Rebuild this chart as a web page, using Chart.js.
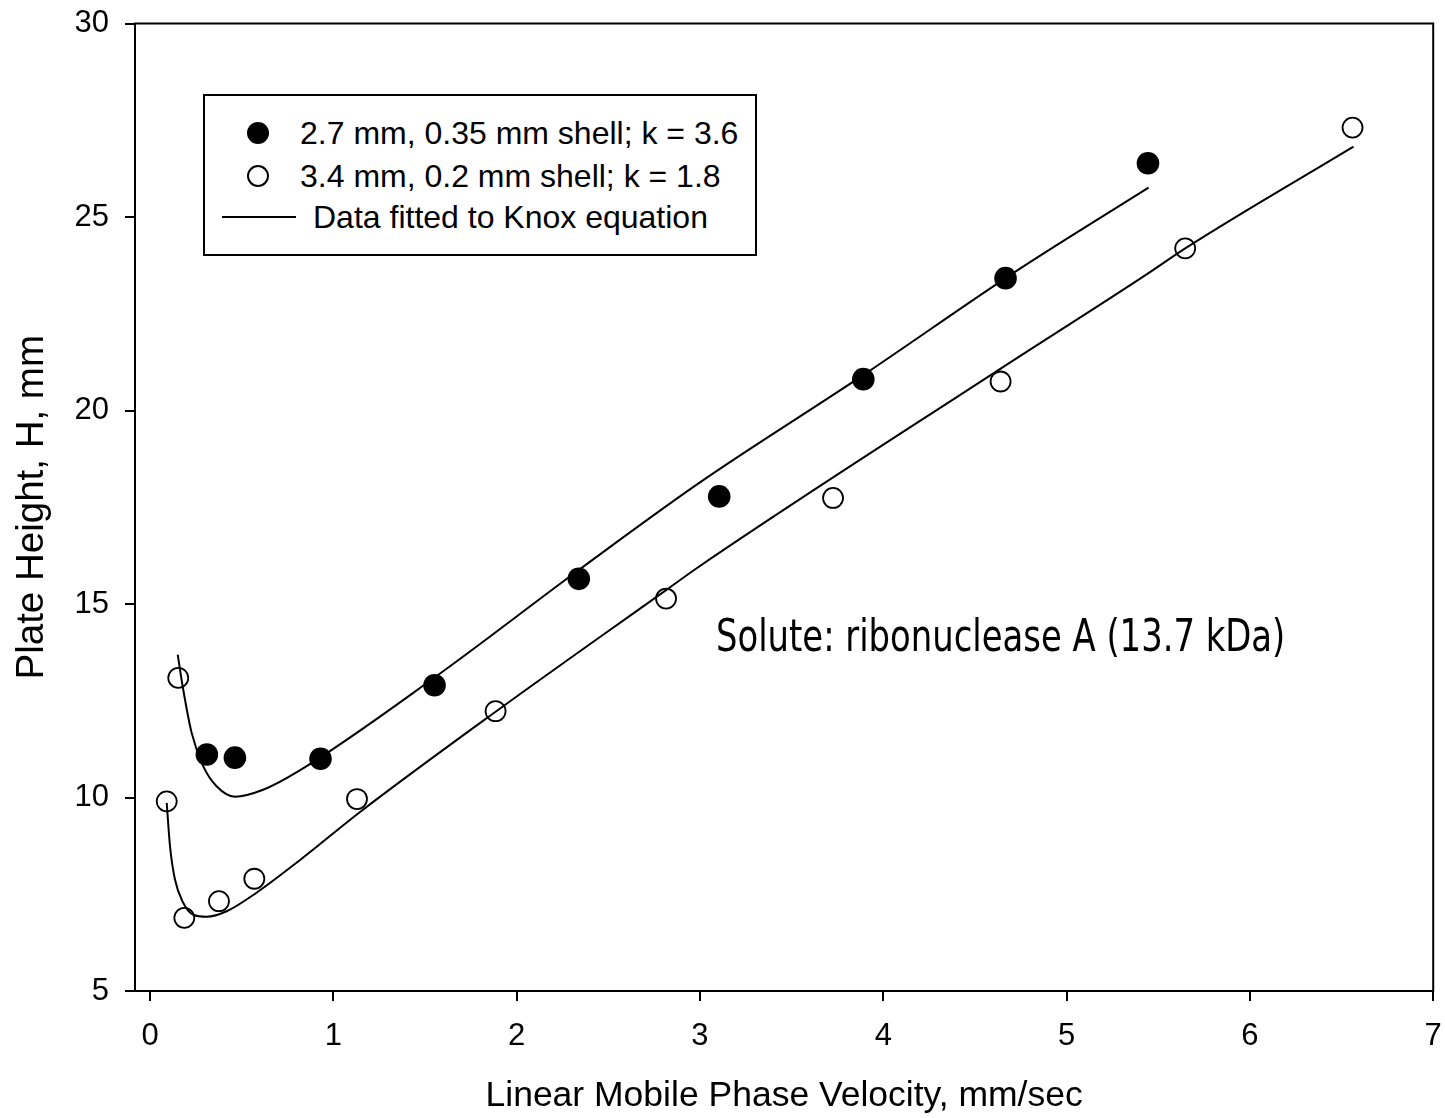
<!DOCTYPE html>
<html>
<head>
<meta charset="utf-8">
<script src="https://cdn.jsdelivr.net/npm/chart.js@4.4.1/dist/chart.umd.min.js"></script>
<style>
  html, body { margin: 0; padding: 0; background: #fff; }
  #wrap { position: relative; width: 1445px; height: 1118px; }
  canvas { position: absolute; left: 0; top: 0; }
  .legend { position: absolute; left: 203px; top: 94px; width: 550px; height: 158px;
            border: 2px solid #000; background: #fff; font-family: "Liberation Sans", Arial, sans-serif; font-size: 32px; color: #000; }
  .row { position: absolute; left: 0; height: 36px; line-height: 36px; white-space: nowrap; }
  .dot { position: absolute; width: 22px; height: 22px; border-radius: 50%; box-sizing: border-box; }
  .filled { background: #000; }
  .open { border: 2px solid #000; background: transparent; }
  .lline { position: absolute; height: 2px; background: #000; }
  .note { position: absolute; left: 716px; top: 608px; font-family: "Liberation Sans Narrow", "DejaVu Sans Condensed", sans-serif;
          font-size: 44px; line-height: 56px; color: #000; white-space: nowrap;
          transform: scaleX(0.855); transform-origin: 0 0; }
</style>
</head>
<body>
<div id="wrap">
  <canvas id="c" width="1445" height="1118"></canvas>
  <div class="legend" id="legend"></div>
  <div class="note" id="note"></div>
</div>
<script>
// ---- Data ----
const legendLabels = ["2.7 mm, 0.35 mm shell; k = 3.6", "3.4 mm, 0.2 mm shell; k = 1.8", "Data fitted to Knox equation"];
const noteText = "Solute: ribonuclease A (13.7 kDa)";
const xTitle = "Linear Mobile Phase Velocity, mm/sec";
const yTitle = "Plate Height, H, mm";
const xTicks = [0, 1, 2, 3, 4, 5, 6, 7];
const yTicks = [5, 10, 15, 20, 25, 30];

// 2.7 mm particles (filled circles)
const filledX = [0.31, 0.463, 0.93, 1.552, 2.339, 3.105, 3.891, 4.667, 5.444];
const filledY = [11.11, 11.03, 11.0, 12.90, 15.65, 17.78, 20.81, 23.42, 26.39];
// 3.4 mm particles (open circles)
const openX = [0.091, 0.154, 0.187, 0.376, 0.569, 1.129, 1.885, 2.815, 3.726, 4.64, 5.647, 6.56];
const openY = [9.90, 13.09, 6.89, 7.32, 7.90, 9.96, 12.23, 15.14, 17.74, 20.75, 24.19, 27.31];
// Knox fit curve, 2.7 mm
const fitAX = [0.151, 0.181, 0.227, 0.29, 0.363, 0.463, 0.617, 0.817, 1.552, 2.342, 2.996, 3.886, 4.721, 5.447];
const fitAY = [13.69, 12.79, 11.67, 10.81, 10.29, 10.02, 10.20, 10.70, 13.10, 15.89, 18.13, 20.90, 23.59, 25.76];
// Knox fit curve, 3.4 mm
const fitBX = [0.091, 0.109, 0.136, 0.181, 0.236, 0.309, 0.418, 0.581, 0.817, 1.144, 1.889, 2.815, 2.996, 4.63, 5.447, 5.647, 6.565];
const fitBY = [9.86, 8.74, 7.88, 7.28, 6.97, 6.92, 7.06, 7.54, 8.38, 9.62, 12.23, 15.36, 15.97, 21.05, 23.55, 24.19, 26.82];

const pts = (xs, ys) => xs.map((x, i) => ({x: x, y: ys[i]}));

// ---- Legend & note (real DOM text) ----
const lg = document.getElementById('legend');
lg.innerHTML =
  '<div class="dot filled" style="left:42px;top:26px"></div>' +
  '<div class="row" style="left:95px;top:19px">' + legendLabels[0] + '</div>' +
  '<div class="dot open" style="left:42px;top:69px"></div>' +
  '<div class="row" style="left:95px;top:62px">' + legendLabels[1] + '</div>' +
  '<div class="lline" style="left:17px;top:120px;width:74px"></div>' +
  '<div class="row" style="left:108px;top:103px">' + legendLabels[2] + '</div>';
document.getElementById('note').textContent = noteText;

// ---- Chart ----
Chart.defaults.font.family = '"Liberation Sans", Arial, sans-serif';
Chart.defaults.color = '#000';

const frame = {
  id: 'frame',
  afterDraw(chart) {
    const {ctx, chartArea: a} = chart;
    ctx.save();
    ctx.strokeStyle = '#000';
    ctx.lineWidth = 2;
    ctx.strokeRect(a.left, a.top, a.right - a.left, a.bottom - a.top);
    ctx.restore();
  }
};

new Chart(document.getElementById('c'), {
  type: 'scatter',
  data: {
    datasets: [
      { label: legendLabels[2], data: pts(fitAX, fitAY), showLine: true, pointRadius: 0,
        borderColor: '#000', borderWidth: 2, cubicInterpolationMode: 'monotone', fill: false },
      { label: legendLabels[2], data: pts(fitBX, fitBY), showLine: true, pointRadius: 0,
        borderColor: '#000', borderWidth: 2, cubicInterpolationMode: 'monotone', fill: false },
      { label: legendLabels[0], data: pts(filledX, filledY), pointRadius: 11.3,
        backgroundColor: '#000', borderColor: '#000', borderWidth: 0, showLine: false },
      { label: legendLabels[1], data: pts(openX, openY), pointRadius: 10,
        backgroundColor: 'rgba(0,0,0,0)', borderColor: '#000', borderWidth: 1.8, showLine: false }
    ]
  },
  options: {
    responsive: false,
    animation: false,
    layout: { padding: { top: 23.5, right: 10, left: 0, bottom: 0 } },
    plugins: { legend: { display: false }, tooltip: { enabled: false } },
    scales: {
      x: {
        type: 'linear', min: -0.082, max: 7,
        afterBuildTicks: s => { s.ticks = xTicks.map(v => ({value: v})); },
        afterFit: s => { s.height = 127; s.paddingLeft = 0; s.paddingRight = 0; },
        ticks: { font: { size: 31 }, padding: 17, maxRotation: 0, callback: v => String(v) },
        grid: { drawOnChartArea: false, drawTicks: true, tickLength: 10, color: '#000', lineWidth: 2 },
        border: { display: true, color: '#000', width: 2 },
        title: { display: true, text: xTitle, font: { size: 35.5 }, padding: { top: 0, bottom: 0 } }
      },
      y: {
        type: 'linear', min: 5, max: 30,
        afterBuildTicks: s => { s.ticks = yTicks.map(v => ({value: v})); },
        afterFit: s => { s.width = 135; s.paddingTop = 0; s.paddingBottom = 0; },
        ticks: { font: { size: 31 }, padding: 16, callback: v => String(v) },
        grid: { drawOnChartArea: false, drawTicks: true, tickLength: 10, color: '#000', lineWidth: 2 },
        border: { display: true, color: '#000', width: 2 },
        title: { display: true, text: yTitle, font: { size: 38.5 }, padding: { top: 9, bottom: 0 } }
      }
    }
  },
  plugins: [frame]
});
</script>
</body>
</html>
